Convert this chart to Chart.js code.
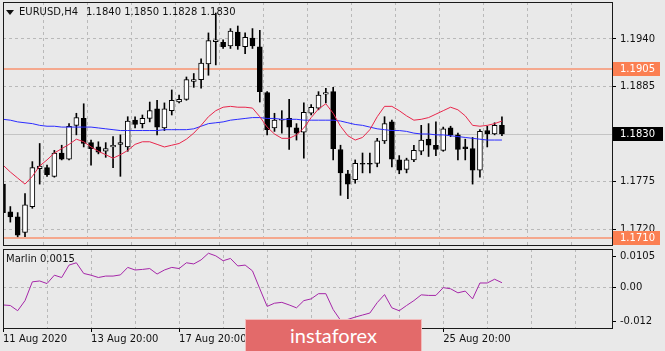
<!DOCTYPE html>
<html><head><meta charset="utf-8">
<script src="https://cdn.jsdelivr.net/npm/chart.js@4.4.1/dist/chart.umd.min.js"></script>
<style>
html,body{margin:0;padding:0;background:#e9e9e9;}
#wrap{position:relative;width:665px;height:351px;overflow:hidden;background:#e9e9e9;font-family:'DejaVu Sans',sans-serif;color:#111;}
canvas{position:absolute;left:0;}
#c1{top:0;}
#c2{top:247px;}
.txt{position:absolute;font-size:10px;line-height:12px;white-space:pre;color:#111;}
#tri{position:absolute;left:6px;top:10px;width:0;height:0;border-left:4px solid transparent;border-right:4px solid transparent;border-top:5px solid #111;}
#wm{position:absolute;left:245px;top:319px;width:175px;height:31px;background:#e36a6a;border:1px solid rgba(255,255,255,0.55);color:#fff;font-family:Lato,'Open Sans',sans-serif;font-size:20px;line-height:30px;text-align:center;}
</style></head>
<body>
<div id="wrap">
<canvas id="c1" width="665" height="248"></canvas>
<canvas id="c2" width="665" height="104"></canvas>
<div id="tri"></div>
<div class="txt" id="sym" style="left:19px;top:6px;">EURUSD,H4</div>
<div class="txt" id="ohlc" style="left:86px;top:6px;"></div>
<div class="txt" id="mar" style="left:6px;top:253px;"></div>
<div id="wm">instaforex</div>
</div>
<script>
// ---- data ----
const timeTickLabels = ['11 Aug 2020','13 Aug 20:00','17 Aug 20:00','19 Aug 20:00','21 Aug 20:00','25 Aug 20:00'];
const barsPerLabel = 12;
const barsPerGrid = 6;
const totalSlots = 84;

const open  = [1.1772,1.1740,1.1734,1.1716,1.1746,1.1790,1.1791,1.1781,1.1808,1.1801,
               1.1840,1.1848,1.1820,1.1815,1.1810,1.1815,1.1818,1.1815,1.1846,1.1842,
               1.1848,1.1859,1.1837,1.1857,1.1867,1.1870,1.1891,1.1893,1.1911,1.1937,
               1.1936,1.1932,1.1948,1.1931,1.1941,1.1931,1.1878,1.1837,1.1846,1.1848,
               1.1837,1.1832,1.1854,1.1860,1.1876,1.1879,1.1812,1.1784,1.1777,1.1796,
               1.1796,1.1796,1.1822,1.1844,1.1800,1.1789,1.1800,1.1810,1.1824,1.1817,
               1.1811,1.1837,1.1829,1.1815,1.1813,1.1788,1.1834,1.1830,1.1840];
const high  = [1.1779,1.1746,1.1739,1.1761,1.1798,1.1819,1.1794,1.1811,1.1817,1.1842,
               1.1854,1.1865,1.1823,1.1821,1.1820,1.1827,1.1829,1.1850,1.1850,1.1852,
               1.1867,1.1869,1.1866,1.1881,1.1875,1.1896,1.1900,1.1917,1.1947,1.1970,
               1.1939,1.1952,1.1955,1.1947,1.1952,1.1950,1.1879,1.1854,1.1857,1.1870,
               1.1842,1.1866,1.1864,1.1879,1.1883,1.1884,1.1817,1.1788,1.1800,1.1808,
               1.1808,1.1825,1.1850,1.1846,1.1805,1.1802,1.1817,1.1840,1.1842,1.1844,
               1.1838,1.1839,1.1831,1.1824,1.1826,1.1835,1.1839,1.1843,1.1850];
const low   = [1.1733,1.1728,1.1711,1.1711,1.1744,1.1772,1.1781,1.1780,1.1800,1.1800,
               1.1829,1.1815,1.1794,1.1807,1.1803,1.1791,1.1781,1.1810,1.1837,1.1837,
               1.1844,1.1829,1.1834,1.1852,1.1866,1.1869,1.1884,1.1883,1.1898,1.1910,
               1.1929,1.1929,1.1928,1.1923,1.1929,1.1867,1.1829,1.1833,1.1831,1.1812,
               1.1823,1.1802,1.1852,1.1858,1.1866,1.1800,1.1759,1.1755,1.1773,1.1785,
               1.1785,1.1792,1.1819,1.1792,1.1784,1.1785,1.1798,1.1806,1.1804,1.1805,
               1.1810,1.1827,1.1800,1.1800,1.1772,1.1780,1.1815,1.1829,1.1828];
const close = [1.1739,1.1734,1.1713,1.1748,1.1791,1.1793,1.1783,1.1808,1.1801,1.1839,
               1.1849,1.1819,1.1813,1.1809,1.1813,1.1817,1.1820,1.1845,1.1841,1.1848,
               1.1857,1.1838,1.1859,1.1869,1.1870,1.1893,1.1893,1.1912,1.1938,1.1939,
               1.1931,1.1949,1.1932,1.1942,1.1932,1.1879,1.1835,1.1846,1.1847,1.1838,
               1.1831,1.1855,1.1861,1.1875,1.1878,1.1813,1.1785,1.1772,1.1796,1.1795,
               1.1795,1.1822,1.1842,1.1801,1.1788,1.1800,1.1811,1.1823,1.1817,1.1812,
               1.1836,1.1829,1.1812,1.1813,1.1788,1.1833,1.1830,1.1840,1.1830];
const maFast = [1.1794,1.1786,1.1779,1.1772,1.1781,1.1793,1.1800,1.1808,1.1813,1.1818,
                1.1824,1.1821,1.1815,1.1810,1.1806,1.1802,1.1806,1.1811,1.1818,1.1821,
                1.1821,1.1818,1.1815,1.1817,1.1819,1.1824,1.1831,1.1840,1.1850,1.1857,
                1.1861,1.1862,1.1861,1.1861,1.1860,1.1850,1.1838,1.1830,1.1825,1.1825,
                1.1829,1.1837,1.1849,1.1859,1.1865,1.1854,1.1839,1.1828,1.1823,1.1826,
                1.1835,1.1850,1.1862,1.1862,1.1857,1.1851,1.1846,1.1847,1.1849,1.1853,
                1.1857,1.1861,1.1858,1.1851,1.1840,1.1839,1.1840,1.1842,1.1845];
const maSlow = [1.1847,1.1846,1.1844,1.1843,1.1842,1.1840,1.1839,1.1839,1.1838,1.1838,
                1.1838,1.1838,1.1838,1.1837,1.1836,1.1835,1.1834,1.1834,1.1834,1.1834,
                1.1834,1.1834,1.1835,1.1835,1.1835,1.1835,1.1836,1.1839,1.1842,1.1843,
                1.1844,1.1846,1.1847,1.1848,1.1849,1.1849,1.1848,1.1848,1.1847,1.1847,
                1.1847,1.1846,1.1846,1.1846,1.1846,1.1846,1.1845,1.1843,1.1841,1.1840,
                1.1838,1.1836,1.1835,1.1834,1.1834,1.1833,1.1831,1.1830,1.1830,1.1829,
                1.1829,1.1828,1.1827,1.1826,1.1825,1.1824,1.1823,1.1823,1.1823];
const marlin = [-0.0062,-0.0064,-0.0082,-0.0047,0.0018,0.0021,0.0012,0.0041,0.0033,0.0076,
                0.0084,0.0047,0.0041,0.0033,0.0038,0.0038,0.0042,0.0068,0.0059,0.0061,
                0.0064,0.0045,0.0059,0.0068,0.0064,0.0084,0.0080,0.0094,0.0117,0.0108,
                0.0091,0.0099,0.0073,0.0076,0.0056,-0.0006,-0.0067,-0.0056,-0.0053,-0.0062,
                -0.0072,-0.0047,-0.0041,-0.0023,-0.0023,-0.0078,-0.0115,-0.0112,-0.0104,-0.0097,
                -0.0090,-0.0054,-0.0026,-0.0072,-0.0082,-0.0064,-0.0047,-0.0027,-0.0029,-0.0029,
                -0.0002,-0.0006,-0.0020,-0.0014,-0.0041,0.0014,0.0014,0.0027,0.0015];
const priceTicks = [1.1720,1.1775,1.1830,1.1885,1.1940];
const levelLines = [1.1905,1.1710];
const bidPrice = 1.1830;
const marlinTicks = [0.0105,0,-0.012];
const marlinTickLabels = ['0.0105','0.00','-0.012'];

// ---- build ----
const categories = [];
for (let i = 0; i < totalSlots; i++) {
  const k = i / barsPerLabel;
  categories.push((i % barsPerLabel === 0 && k < timeTickLabels.length) ? timeTickLabels[k] : '');
}
const last = open.length - 1;
document.getElementById('ohlc').textContent =
  [open[last], high[last], low[last], close[last]].map(v => v.toFixed(4)).join(' ');
document.getElementById('mar').textContent = 'Marlin ' + marlin[last].toFixed(4);

const GRID = '#b9b9b9';
const FONT = {family: 'DejaVu Sans', size: 10};
const NONE = 'rgba(0,0,0,0)';
const noPad = s => { s.paddingTop = 0; s.paddingBottom = 0; s.paddingLeft = 0; s.paddingRight = 0; };

const framePlugin = {
  id: 'frame',
  afterDraw(chart) {
    const {ctx, chartArea: a} = chart;
    ctx.save();
    ctx.strokeStyle = '#1a1a1a';
    ctx.lineWidth = 1;
    ctx.strokeRect(Math.round(a.left) + 0.5, Math.round(a.top) + 0.5,
                   Math.round(a.right - a.left), Math.round(a.bottom - a.top));
    ctx.restore();
  }
};

function hline(ctx, x1, x2, y) { ctx.beginPath(); ctx.moveTo(x1, y); ctx.lineTo(x2, y); ctx.stroke(); }

const mainOverlay = {
  id: 'mainOverlay',
  beforeDatasetsDraw(chart) {
    const {ctx, chartArea: a} = chart, y = chart.scales.y;
    ctx.save();
    ctx.beginPath(); ctx.rect(a.left, a.top, a.right - a.left, a.bottom - a.top); ctx.clip();
    ctx.strokeStyle = '#c4c4c4'; ctx.lineWidth = 1;
    hline(ctx, a.left, a.right, Math.round(y.getPixelForValue(bidPrice)) + 0.5);
    ctx.strokeStyle = '#f5a88e'; ctx.lineWidth = 2;
    levelLines.forEach(v => hline(ctx, a.left, a.right, Math.round(y.getPixelForValue(v))));
    ctx.restore();
  },
  afterDraw(chart) {
    const {ctx, chartArea: a} = chart, y = chart.scales.y;
    ctx.save();
    ctx.font = '10px "DejaVu Sans"';
    ctx.textBaseline = 'middle';
    ctx.textAlign = 'left';
    const box = (v, bg, w) => {
      const p = Math.round(y.getPixelForValue(v));
      ctx.fillStyle = bg;
      ctx.fillRect(a.right + 1, p - 7, w, 14);
      ctx.fillStyle = '#ffffff';
      ctx.fillText(v.toFixed(4), a.right + 8, p);
    };
    levelLines.forEach(v => box(v, '#fb7f52', 47));
    box(bidPrice, '#000000', 50);
    ctx.restore();
  }
};

const bodyColors = open.map((o, i) => close[i] >= o ? '#ffffff' : '#000000');

new Chart(document.getElementById('c1'), {
  data: {
    labels: categories,
    datasets: [
      {type: 'line', data: maFast, borderColor: '#e8264b', borderWidth: 1, pointRadius: 0, tension: 0, clip: 0},
      {type: 'line', data: maSlow, borderColor: '#2b2bff', borderWidth: 1, pointRadius: 0, tension: 0, clip: 0},
      {type: 'bar', data: open.map((o, i) => [o, close[i]]), backgroundColor: bodyColors,
       borderColor: '#000000', borderWidth: 1, borderSkipped: false, barThickness: 5, grouped: false, clip: 0},
      {type: 'bar', data: low.map((l, i) => [l, high[i]]), backgroundColor: '#000000',
       borderWidth: 0, barThickness: 1, grouped: false, clip: 0}
    ]
  },
  options: {
    responsive: false, animation: false, events: [],
    layout: {padding: {left: 3, top: 2, right: 0, bottom: 3}},
    plugins: {legend: {display: false}, tooltip: {enabled: false}},
    scales: {
      x: {
        type: 'category', offset: false,
        ticks: {display: false, autoSkip: false},
        grid: {drawTicks: false, color: c => (c.index % barsPerGrid === 0 ? GRID : NONE)},
        border: {display: false, dash: [3, 3]},
        afterFit: s => { s.height = 0; noPad(s); }
      },
      y: {
        position: 'right', min: 1.17015, max: 1.19828,
        afterBuildTicks: s => { s.ticks = priceTicks.map(v => ({value: v})); },
        ticks: {callback: v => Number(v).toFixed(4), color: '#111', font: FONT, padding: 4},
        grid: {color: c => (c.tick && Math.abs(c.tick.value - bidPrice) < 1e-7 ? NONE : GRID),
               tickColor: '#000', tickLength: 4, tickBorderDash: []},
        border: {display: false, dash: [3, 3]},
        afterFit: s => { s.width = 53; noPad(s); }
      }
    }
  },
  plugins: [mainOverlay, framePlugin]
});

new Chart(document.getElementById('c2'), {
  data: {
    labels: categories,
    datasets: [
      {type: 'line', data: marlin, borderColor: '#a526a8', borderWidth: 1, pointRadius: 0, tension: 0, clip: 0}
    ]
  },
  options: {
    responsive: false, animation: false, events: [],
    layout: {padding: {left: 3, top: 2, right: 0, bottom: 0}},
    plugins: {legend: {display: false}, tooltip: {enabled: false}},
    scales: {
      x: {
        type: 'category', offset: false,
        ticks: {autoSkip: false, maxRotation: 0, minRotation: 0, align: 'start', padding: 1, color: '#111', font: FONT},
        grid: {color: c => (c.index % barsPerGrid === 0 ? GRID : NONE),
               tickColor: c => (c.index % barsPerLabel === 0 && c.index / barsPerLabel < timeTickLabels.length ? '#000' : NONE),
               tickLength: 4, tickBorderDash: []},
        border: {display: false, dash: [3, 3]},
        afterFit: s => { s.height = 23; noPad(s); }
      },
      y: {
        position: 'right', min: -0.01418, max: 0.01317,
        afterBuildTicks: s => { s.ticks = marlinTicks.map(v => ({value: v})); },
        ticks: {callback: v => { const k = marlinTicks.indexOf(v); return k >= 0 ? marlinTickLabels[k] : ''; },
                color: '#111', font: FONT, padding: 4},
        grid: {color: c => (c.tick && c.tick.value === 0 ? GRID : NONE), tickColor: '#000', tickLength: 4, tickBorderDash: []},
        border: {display: false, dash: [3, 3]},
        afterFit: s => { s.width = 53; noPad(s); }
      }
    }
  },
  plugins: [framePlugin]
});
</script>
</body></html>
